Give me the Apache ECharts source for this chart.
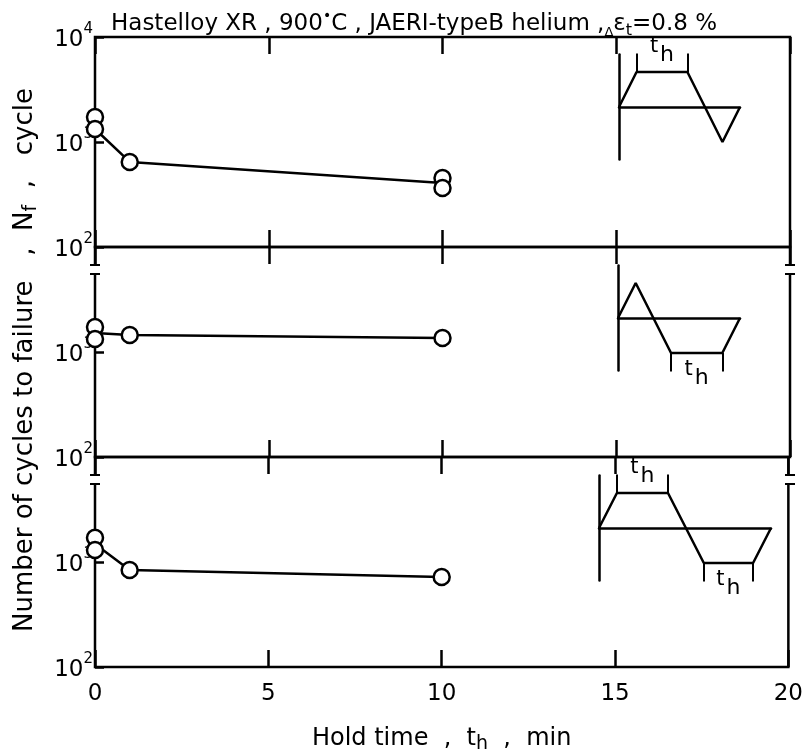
<!DOCTYPE html>
<html>
<head>
<meta charset="utf-8">
<script src="https://cdn.jsdelivr.net/npm/echarts@6/dist/echarts.min.js"></script>
<style>html,body{margin:0;background:#fff}#main{width:806px;height:755px}</style>
</head>
<body>
<div id="main"></div>
<script>
// hold time (min) / cycles to failure, one set per panel (top, middle, bottom)
var holdA = [0, 0, 1, 10, 10];
var cycA = [1730, 1330, 646, 454, 365];
var trendHoldA = [0, 1, 10];
var trendA = [1330, 646, 408];

var holdB = [0, 0, 1, 10];
var cycB = [1730, 1330, 1450, 1360];
var trendHoldB = [0, 1, 10];
var trendB = [1520, 1450, 1360];

var holdC = [0, 0, 1, 10];
var cycC = [1700, 1300, 840, 720];
var trendHoldC = [0, 1, 10];
var trendC = [1480, 840, 720];

// strain waveform sketches (time, strain) and their hold segments [start, end, level]
var waveA = [[0, 0], [1, 1], [3.9, 1], [5.9, -1], [6.9, 0]];
var waveB = [[0, 0], [1, 1], [3, -1], [5.9, -1], [6.9, 0]];
var waveC = [[0, 0], [1, 1], [3.85, 1], [5.85, -1], [8.6, -1], [9.6, 0]];
var holdMarkA = [[1, 3.9, 1]];
var holdMarkB = [[3, 5.9, -1]];
var holdMarkC = [[1, 3.85, 1], [5.85, 8.6, -1]];

var font = "'DejaVu Sans', 'Liberation Sans', sans-serif";
var black = '#000';
var lw = 2.5;

function zip(xs, ys) {
	return xs.map(function (x, i) { return [x, ys[i]]; });
}

// main panels
var panelTop = [37, 247, 457];
var panelH = [210, 210, 211];
var grids = [], xAxes = [], yAxes = [], series = [];

function decadeLabel(showTop) {
	return function (v) {
		if (v >= 9999 && !showTop) return '';
		return '{b|10}{s|' + Math.round(Math.log(v) / Math.LN10) + '}';
	};
}

panelTop.forEach(function (top, i) {
	grids.push({ left: 95, top: top, width: 695, height: panelH[i], show: true, borderColor: black, borderWidth: lw });
	var xBase = {
		gridIndex: i, type: 'value', min: 0, max: 20, interval: 5,
		axisLine: { show: false },
		axisTick: { inside: true, length: 17, lineStyle: { color: black, width: lw } },
		splitLine: { show: false }
	};
	xAxes.push(Object.assign({}, xBase, {
		position: 'bottom',
		axisLabel: { show: i == 2, color: black, fontFamily: font, fontSize: 23, margin: 16 },
		name: i == 2 ? 'Hold time  ,  t{h|h}  ,  min' : '',
		nameLocation: 'middle', nameGap: 57,
		nameTextStyle: {
			color: black, fontFamily: font, fontSize: 24,
			rich: { h: { fontFamily: font, fontSize: 19, color: black, verticalAlign: 'bottom', lineHeight: 30 } }
		}
	}));
	xAxes.push(Object.assign({}, xBase, { position: 'top', axisLabel: { show: false } }));
	yAxes.push({
		gridIndex: i, type: 'log', logBase: 10, min: 100, max: 10000,
		axisLine: { show: false },
		axisTick: { inside: true, length: 9, lineStyle: { color: black, width: lw } },
		minorTick: { show: false },
		splitLine: { show: false },
		axisLabel: {
			formatter: decadeLabel(i == 0), margin: 2, color: black,
			rich: {
				b: { fontFamily: font, fontSize: 23, color: black, lineHeight: 30, verticalAlign: 'bottom' },
				s: { fontFamily: font, fontSize: 15, color: black, lineHeight: 30, verticalAlign: 'top' }
			}
		},
		name: i == 1 ? 'Number of cycles to failure   ,  N{f|f}  ,   cycle' : '',
		nameLocation: 'middle', nameGap: 54, nameRotate: 90,
		nameTextStyle: {
			color: black, fontFamily: font, fontSize: 26, padding: [0, 16, 0, 0],
			rich: { f: { fontFamily: font, fontSize: 19, color: black, verticalAlign: 'bottom', lineHeight: 32 } }
		}
	});
});

var panels = [
	[holdA, cycA, trendHoldA, trendA],
	[holdB, cycB, trendHoldB, trendB],
	[holdC, cycC, trendHoldC, trendC]
];
panels.forEach(function (p, i) {
	series.push({
		type: 'line', xAxisIndex: i * 2, yAxisIndex: i, data: zip(p[2], p[3]),
		symbol: 'none', lineStyle: { color: black, width: lw }, z: 2, silent: true
	});
	series.push({
		type: 'scatter', xAxisIndex: i * 2, yAxisIndex: i, data: zip(p[0], p[1]),
		symbol: 'circle', symbolSize: 16,
		itemStyle: { color: '#fff', borderColor: black, borderWidth: lw, opacity: 1 }, z: 3, silent: true
	});
});

// waveform sketches
var insets = [
	{ left: 619, zero: 107, width: 121, wave: waveA, marks: holdMarkA },
	{ left: 618, zero: 318, width: 122, wave: waveB, marks: holdMarkB },
	{ left: 599, zero: 528, width: 172, wave: waveC, marks: holdMarkC }
];
insets.forEach(function (s, k) {
	var g = 3 + k;
	var tEnd = s.wave[s.wave.length - 1][0];
	grids.push({ left: s.left, top: s.zero - 52.5, width: s.width, height: 105 });
	xAxes.push({
		gridIndex: g, type: 'value', min: 0, max: tEnd,
		axisLine: { show: true, onZero: true, lineStyle: { color: black, width: lw } },
		axisTick: { show: false }, axisLabel: { show: false }, splitLine: { show: false }
	});
	yAxes.push({
		gridIndex: g, type: 'value', min: -1.5, max: 1.5,
		axisLine: { show: true, lineStyle: { color: black, width: lw } },
		axisTick: { show: false }, axisLabel: { show: false }, splitLine: { show: false }
	});
	var xi = xAxes.length - 1, yi = yAxes.length - 1;
	series.push({
		type: 'line', xAxisIndex: xi, yAxisIndex: yi, data: s.wave, clip: false,
		symbol: 'none', lineStyle: { color: black, width: lw }, silent: true
	});
	var segs = [], labels = [];
	s.marks.forEach(function (m) {
		var d = m[2] > 0 ? 1 : -1;
		var yTick = m[2] + d * 0.78, yArr = m[2] + d * 0.6;
		segs.push({ coords: [[m[0], m[2]], [m[0], yTick]] });
		segs.push({ coords: [[m[1], m[2]], [m[1], yTick]] });
		segs.push({ coords: [[m[0], yArr], [m[0] + 0.45, yArr]] });
		segs.push({ coords: [[m[1] - 0.45, yArr], [m[1], yArr]] });
		labels.push([(m[0] + m[1]) / 2, yArr]);
	});
	series.push({
		type: 'lines', coordinateSystem: 'cartesian2d', xAxisIndex: xi, yAxisIndex: yi,
		data: segs, lineStyle: { color: black, width: 2, opacity: 1 }, silent: true
	});
	series.push({
		type: 'scatter', xAxisIndex: xi, yAxisIndex: yi, data: labels, symbolSize: 0, clip: false, silent: true,
		itemStyle: { opacity: 1 },
		label: {
			show: true, position: 'inside', formatter: '{t|t}{h|h}', color: black,
			rich: {
				t: { fontFamily: font, fontSize: 21, color: black, lineHeight: 30, verticalAlign: 'top' },
				h: { fontFamily: font, fontSize: 22, color: black, lineHeight: 30, verticalAlign: 'bottom', padding: [0, 0, 0, 2] }
			}
		}
	});
});

// axis break marks just below panel boundaries
var breaks = [];
[247, 457].forEach(function (y0) {
	[95, 790].forEach(function (x0) {
		breaks.push({ type: 'rect', shape: { x: x0 - 3, y: y0 + 18, width: 6, height: 9 }, style: { fill: '#fff' }, z: 100 });
		breaks.push({ type: 'line', shape: { x1: x0 - 5, y1: y0 + 18, x2: x0 + 5, y2: y0 + 18 }, style: { stroke: black, lineWidth: 2 }, z: 101 });
		breaks.push({ type: 'line', shape: { x1: x0 - 5, y1: y0 + 27, x2: x0 + 5, y2: y0 + 27 }, style: { stroke: black, lineWidth: 2 }, z: 101 });
	});
});

var chart = echarts.init(document.getElementById('main'));
chart.setOption({
	animation: false,
	backgroundColor: '#fff',
	title: {
		text: 'Hastelloy XR , 900{deg|•}C , JAERI-typeB helium ,{d|Δ}ε{sub|t}=0.8 %',
		left: 106, top: 4,
		textStyle: {
			color: black, fontFamily: font, fontSize: 23, fontWeight: 'normal', lineHeight: 30,
			rich: {
				deg: { fontFamily: font, fontSize: 14, color: black, lineHeight: 30, verticalAlign: 'top' },
				d: { fontFamily: font, fontSize: 13, color: black, lineHeight: 30, verticalAlign: 'bottom' },
				sub: { fontFamily: font, fontSize: 16, color: black, lineHeight: 30, verticalAlign: 'bottom' }
			}
		}
	},
	grid: grids,
	xAxis: xAxes,
	yAxis: yAxes,
	series: series,
	graphic: breaks
});
</script>
</body>
</html>
